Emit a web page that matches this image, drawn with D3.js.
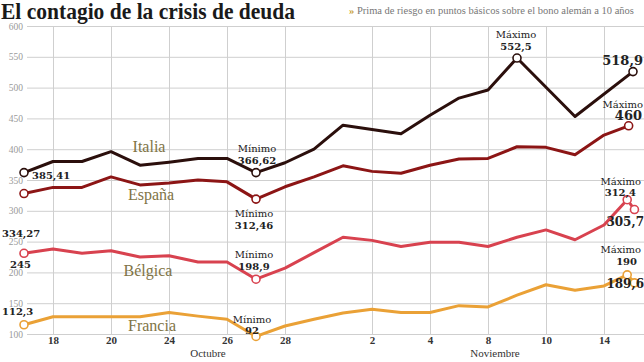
<!DOCTYPE html>
<html><head><meta charset="utf-8">
<script src="https://cdn.jsdelivr.net/npm/d3@7"></script>
<style>
body{margin:0;background:#fff;}
svg{display:block;}
</style></head>
<body>
<svg id="chart" width="644" height="362"></svg>
<script>
// ---- data ----
const tickIdx = [1,3,5,7,9,12,14,16,18,20];
const tickLabels = ["18","20","24","26","28","2","4","8","10","14"];
const yTicks = [100,150,200,250,300,350,400,450,500,550,600];

const italiaX = [0,1,2,3,4,5,6,7,8,9,10,11,13,14,15,16,17,19,21];
const italiaV = [362,380,380,396,374,379,385,385,362,378,400,439,425,455,483,496,548,453,526];

const espanaX = [0,1,2,3,4,5,6,7,8,9,10,11,12,13,14,15,16,17,18,19,20,20.85];
const espanaV = [328,338,338,355,342,345,350,347,319,339,355,373,364,361,374,384,385,404,403,391,423,438];

const belgicaX = [0,1,2,3,4,5,6,7,8,9,10,11,12,13,14,15,16,17,18,19,20,20.8,21.05];
const belgicaV = [231,238,231,235,225,227,217,217,189,207,232,257,252,242,249,249,242,257,269,253,277,318,302];

const franciaX = [0,1,2,3,4,5,6,7,8,9,10,11,12,13,14,15,16,17,18,19,20,20.8,21.05];
const franciaV = [115,128,128,128,128,135,129,124,96,113,124,134,140,135,135,146,144,163,180,171,178,196,183];

const seriesNames = ["Italia","España","Bélgica","Francia"];
const seriesColors = ["#2b0f0c","#8c1515","#d8424f","#eaa136"];

// ---- scales ----
const svg = d3.select("#chart");
const x = d3.scaleLinear().domain([0,21]).range([24,633]);
const y = d3.scaleLinear().domain([100,600]).range([334,26]);

const serif = "'DejaVu Serif', serif";
const tserif = "'Liberation Serif', serif";

// grid
const yAxis = d3.axisLeft(y).tickValues(yTicks).tickSize(-(644-27)).tickFormat(d3.format("d"));
const gy = svg.append("g").attr("transform","translate(27,0)").call(yAxis);
gy.select(".domain").remove();
gy.selectAll(".tick line").attr("stroke","#cfcfcf").attr("stroke-width",1);
gy.selectAll(".tick text").attr("fill","#9a9a9a").attr("font-family",tserif).attr("font-size",9.5).attr("x",-4);

const xAxis = d3.axisBottom(x).tickValues(tickIdx).tickSize(-(334-26)).tickFormat((d,i)=>tickLabels[i]);
const gx = svg.append("g").attr("transform","translate(0,334)").call(xAxis);
gx.select(".domain").remove();
gx.selectAll(".tick line").attr("stroke","#cfcfcf").attr("stroke-width",1);
gx.selectAll(".tick text").attr("fill","#333").attr("font-family",tserif).attr("font-weight","bold").attr("font-size",11).attr("y",2);

svg.append("text").attr("x",208).attr("y",357).attr("text-anchor","middle")
  .attr("font-family",tserif).attr("font-size",11).attr("fill","#333").text("Octubre");
svg.append("text").attr("x",495).attr("y",357).attr("text-anchor","middle")
  .attr("font-family",tserif).attr("font-size",11).attr("fill","#333").text("Noviembre");

// series name labels (behind lines)
const nameColor = "#7f7446";
const namePos = [[149,152],[151,200],[148,276],[152,331]];
seriesNames.forEach((n,k)=>{
  svg.append("text").attr("x",namePos[k][0]).attr("y",namePos[k][1]).attr("text-anchor","middle")
    .attr("font-family",tserif).attr("font-size",16).attr("fill",nameColor).text(n);
});

// lines
const allX = [italiaX,espanaX,belgicaX,franciaX];
const allV = [italiaV,espanaV,belgicaV,franciaV];
const line = d3.line().x(d=>x(d[0])).y(d=>y(d[1]));
[3,2,1,0].forEach(k=>{
  const pts = allX[k].map((xi,i)=>[xi,allV[k][i]]);
  svg.append("path").datum(pts).attr("d",line).attr("fill","none")
    .attr("stroke",seriesColors[k]).attr("stroke-width",3).attr("stroke-linejoin","round");
});

// markers: indices of marked points per series
const markIdx = [[0,8,16,18],[0,8,21],[0,8,21,22],[0,8,21,22]];
[3,2,1,0].forEach(k=>{
  markIdx[k].forEach(j=>{
    svg.append("circle").attr("cx",x(allX[k][j])).attr("cy",y(allV[k][j])).attr("r",4)
      .attr("fill","#fff").attr("stroke",seriesColors[k]).attr("stroke-width",1.6);
  });
});

// annotations
function ann(txt, xx, yy, anchor, size, weight){
  svg.append("text").attr("x",xx).attr("y",yy).attr("text-anchor",anchor||"middle")
    .attr("font-family",serif).attr("font-size",size||10).attr("font-weight",weight||"bold")
    .attr("fill","#222").text(txt);
}
ann("385,41",32,179,"start",10);
ann("334,27",2,237,"start",10);
ann("245",10,268,"start",10);
ann("112,3",2,315,"start",10);
ann("Mínimo",257,152,"middle",10,"normal");
ann("366,62",257,164,"middle",10);
ann("Mínimo",254,217,"middle",10,"normal");
ann("312,46",254,229,"middle",10);
ann("Mínimo",254,258,"middle",10,"normal");
ann("198,9",254,270,"middle",10);
ann("Mínimo",252,323,"middle",10,"normal");
ann("92",252,334,"middle",10);
ann("Máximo",516,38,"middle",10,"normal");
ann("552,5",516,50,"middle",10);
ann("518,9",643,65,"end",13);
ann("Máximo",643,108,"end",10,"normal");
ann("460",642,120,"end",13);
ann("Máximo",641,185,"end",10,"normal");
ann("312,4",636,196,"end",10);
ann("305,7",644,226,"end",12);
ann("Máximo",641,253,"end",10,"normal");
ann("190",637,265,"end",10);
ann("189,6",644,288,"end",12);

// title
svg.append("text").attr("x",1).attr("y",19).attr("font-family",tserif).attr("font-weight","bold")
  .attr("font-size",23).attr("textLength",294).attr("lengthAdjust","spacingAndGlyphs")
  .attr("fill","#1a1a1a").text("El contagio de la crisis de deuda");
const sub = svg.append("text").attr("x",349).attr("y",14).attr("font-family",tserif).attr("font-size",10.5).attr("fill","#777");
sub.append("tspan").attr("fill","#c9a23a").attr("font-weight","bold").text("» ");
sub.append("tspan").text("Prima de riesgo en puntos básicos sobre el bono alemán a 10 años");
</script>
</body></html>
